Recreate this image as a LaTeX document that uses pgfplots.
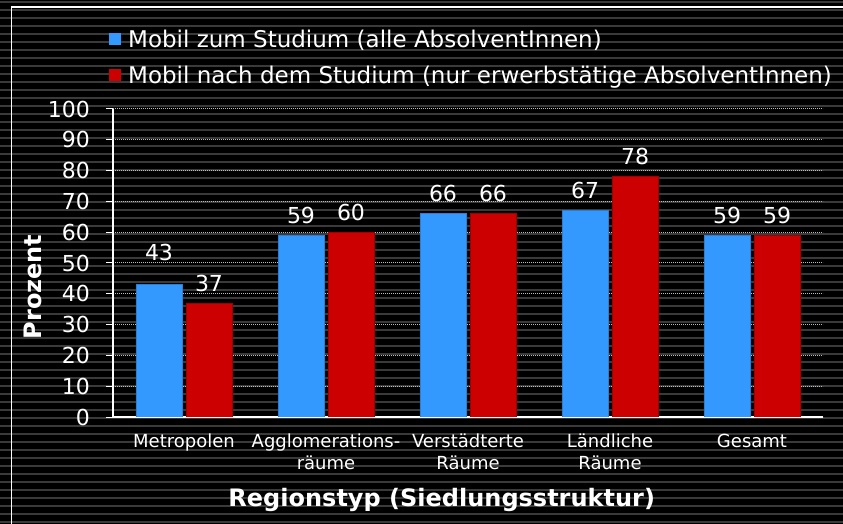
\documentclass[border=0pt]{standalone}
\usepackage{pgfplots}
\pgfplotsset{compat=1.18}
\usepackage{fontspec}
\setmainfont{DejaVu Sans}
\definecolor{barblue}{HTML}{3399FF}
\definecolor{barblueedge}{HTML}{2A7ED6}
\definecolor{barred}{HTML}{CC0000}
\definecolor{barrededge}{HTML}{A00000}
\definecolor{stripe}{HTML}{3A3A3A}
\definecolor{gridc}{HTML}{BBBBBB}
\begin{document}
\begin{tikzpicture}
\useasboundingbox (0,0) rectangle (843bp,524bp);
\fill[black] (0,0) rectangle (843bp,524bp);
\foreach \i in {0,...,65} {\draw[stripe, line width=2.5bp] (0bp,\i*8bp+2bp) -- (843bp,\i*8bp+2bp);}
\draw[white, line width=1.5bp] (11.5bp,-5bp) -- (11.5bp,517bp) -- (850bp,517bp);
\begin{axis}[
  at={(113bp,107bp)}, anchor=south west,
  scale only axis, width=710bp, height=308bp,
  xmin=-0.5, xmax=4.5, ymin=0, ymax=100,
  axis x line*=bottom, axis y line*=left,
  axis line style={white, line width=1.2bp},
  ytick={0,10,...,100},
  xtick={0,1,2,3,4},
  xticklabels={Metropolen, {Agglomerations-\\räume}, {Verstädterte\\Räume}, {Ländliche\\Räume}, Gesamt},
  major x tick style={draw=none},
  major y tick style={white, line width=1bp},
  tick align=outside, major tick length=7bp,
  ymajorgrids,
  grid style={gridc, line width=1bp, dash pattern=on 1bp off 1bp},
  /pgf/number format/assume math mode=true,
  yticklabel style={text=white, font=\fontsize{22bp}{26bp}\selectfont, inner sep=0pt, xshift=-16bp},
  xticklabel style={text=white, font=\fontsize{18bp}{22bp}\selectfont, align=center, inner sep=0pt, yshift=-10bp},
  ybar, bar width=46bp,
  nodes near coords,
  every node near coord/.append style={text=white, font=\fontsize{22bp}{26bp}\selectfont, inner sep=0pt, anchor=south, yshift=11bp},
  xlabel={Regionstyp (Siedlungsstruktur)},
  xlabel style={at={(rel axis cs:0.463,-0.292)}, anchor=base, text=white, font=\bfseries\fontsize{24bp}{28bp}\selectfont},
  ylabel={Prozent},
  ylabel style={at={(rel axis cs:-0.1,0.422)}, anchor=base, text=white, font=\bfseries\fontsize{24bp}{28bp}\selectfont},
  legend style={at={(-0.00563,1.258)}, anchor=north west, draw=none, fill=none, text=white,
    font=\fontsize{23bp}{27bp}\selectfont, inner sep=0pt, row sep=17bp,
    nodes={inner sep=0pt}},
  legend cell align=left,
  legend image code/.code={\fill[#1,draw=none] (0bp,-6bp) rectangle (12bp,6bp);},
]
\addplot[fill=barblue, draw=barblueedge, line width=1bp, bar shift=-25bp,
  coordinate style/.condition={\coordindex==0}{yshift=12bp}]
  coordinates {(0,43) (1,59) (2,66) (3,67) (4,59)};
\addlegendentry{\hspace{7bp}Mobil zum Studium (alle AbsolventInnen)}
\addplot[fill=barred, draw=barrededge, line width=1bp, bar shift=25bp]
  coordinates {(0,37) (1,60) (2,66) (3,78) (4,59)};
\addlegendentry{\hspace{7bp}Mobil nach dem Studium (nur erwerbstätige AbsolventInnen)}
\end{axis}
\end{tikzpicture}
\end{document}
